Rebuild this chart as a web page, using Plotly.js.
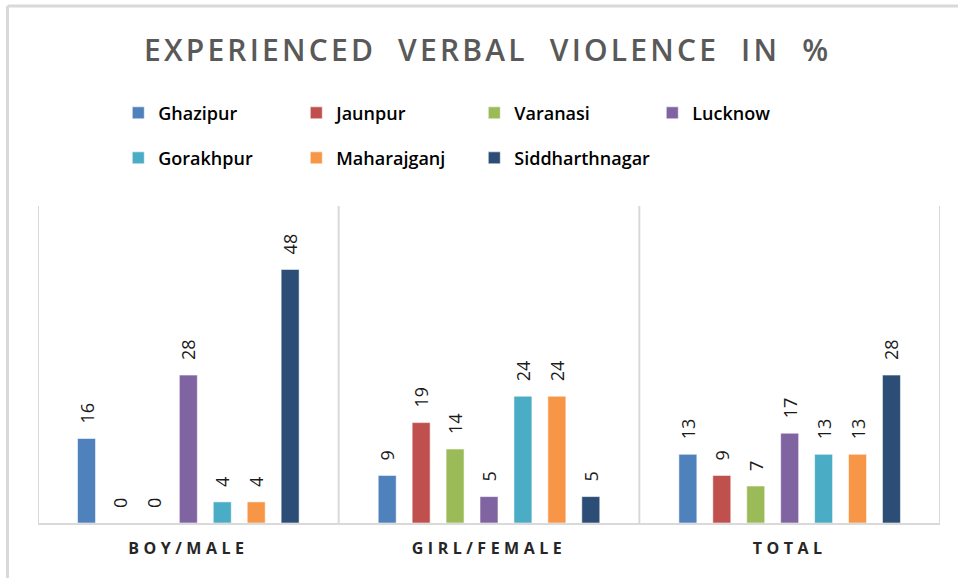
<!DOCTYPE html>
<html>
<head>
<meta charset="utf-8">
<script src="https://cdn.plot.ly/plotly-3.0.1.min.js"></script>
<style>
  html, body { margin: 0; padding: 0; background: #fff; }
  #chart { width: 958px; height: 578px; }
  .gtitle { letter-spacing: 3.2px; }
  .xtick text { letter-spacing: 4.5px; }
</style>
</head>
<body>
<div id="chart"></div>
<script>
const categories = ["BOY/MALE", "GIRL/FEMALE", "TOTAL"];
const districts = ["Ghazipur", "Jaunpur", "Varanasi", "Lucknow", "Gorakhpur", "Maharajganj", "Siddharthnagar"];
const ghazipur = [16, 9, 13];
const jaunpur = [0, 19, 9];
const varanasi = [0, 14, 7];
const lucknow = [28, 5, 17];
const gorakhpur = [4, 24, 13];
const maharajganj = [4, 24, 13];
const siddharthnagar = [48, 5, 28];
const seriesValues = [ghazipur, jaunpur, varanasi, lucknow, gorakhpur, maharajganj, siddharthnagar];
const colors = ["#4F81BD", "#C0504D", "#9BBB59", "#8064A2", "#4BACC6", "#F79646", "#2C4D75"];

const traces = districts.map((name, i) => ({
  type: "bar",
  name: name,
  x: categories,
  y: seriesValues[i],
  text: seriesValues[i].map(v => "\u2002\u2009" + v),
  textposition: "outside",
  textangle: -90,
  constraintext: "none",
  cliponaxis: false,
  textfont: { family: "Open Sans, DejaVu Sans, sans-serif", size: 18, color: "#1a1a1a", weight: 500 },
  marker: { color: colors[i], line: { color: "rgba(255,255,255,0.55)", width: 1 } },
  legend: i < 4 ? "legend" : "legend2",
  hoverinfo: "none"
}));

const gridColor = "#d9d9d9";
const shapes = [];
[-0.5, 0.5, 1.5, 2.5].forEach(xv => {
  shapes.push({ type: "line", xref: "x", yref: "paper", x0: xv, x1: xv, y0: 0, y1: 1,
    line: { color: gridColor, width: 2 }, layer: "below" });
});
// outer chart frame (top and left edges)
shapes.push({ type: "line", xref: "paper", yref: "paper", x0: -0.0338, x1: 1.03, y0: 1.631, y1: 1.631,
  line: { color: "#d9d9d9", width: 3 } });
shapes.push({ type: "line", xref: "paper", yref: "paper", x0: -0.0338, x1: -0.0338, y0: 1.631, y1: -0.2,
  line: { color: "#d9d9d9", width: 3 } });

const legendFont = { family: "Open Sans, sans-serif", size: 18, color: "#000", weight: 600 };

const layout = {
  width: 958,
  height: 578,
  margin: { l: 38, r: 18, t: 206, b: 55 },
  paper_bgcolor: "#fff",
  plot_bgcolor: "#fff",
  title: {
    text: "EXPERIENCED  VERBAL  VIOLENCE  IN  %",
    x: 0.509, xanchor: "center",
    y: 1 - 50 / 578, yanchor: "middle",
    font: { family: "Open Sans, sans-serif", size: 30, color: "#595959", weight: 600 }
  },
  barmode: "group",
  bargap: 0.21,
  bargroupgap: 0.47,
  showlegend: true,
  legend: {
    orientation: "h", x: 0.089, xanchor: "left", y: 1.293, yanchor: "middle",
    entrywidth: 133, entrywidthmode: "pixels", itemwidth: 30,
    font: legendFont, bgcolor: "rgba(0,0,0,0)", traceorder: "normal"
  },
  legend2: {
    orientation: "h", x: 0.089, xanchor: "left", y: 1.151, yanchor: "middle",
    entrywidth: 133, entrywidthmode: "pixels", itemwidth: 30,
    font: legendFont, bgcolor: "rgba(0,0,0,0)", traceorder: "normal"
  },
  xaxis: {
    type: "category",
    showgrid: false,
    showline: true, linecolor: gridColor, linewidth: 2,
    ticks: "outside", ticklen: 10, tickcolor: "rgba(0,0,0,0)",
    tickfont: { family: "Open Sans, sans-serif", size: 16, color: "#262626", weight: 700 },
    range: [-0.5, 2.5],
    fixedrange: true
  },
  yaxis: {
    range: [0, 60],
    visible: false,
    showgrid: false,
    zeroline: false,
    fixedrange: true
  },
  shapes: shapes
};

Plotly.newPlot("chart", traces, layout, { displayModeBar: false, staticPlot: true });
</script>
</body>
</html>
